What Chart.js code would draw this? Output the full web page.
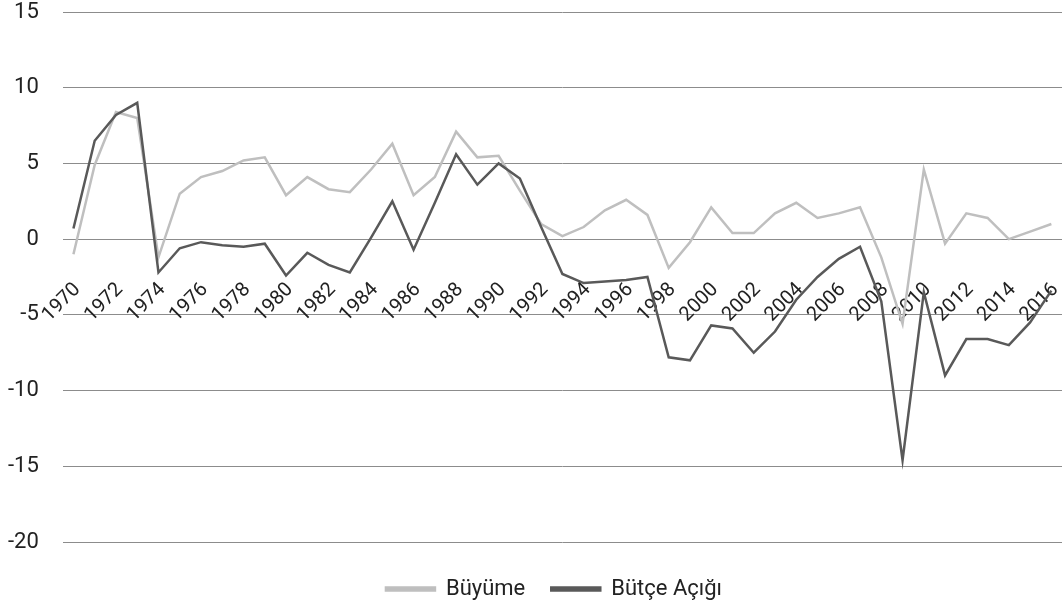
<!DOCTYPE html>
<html>
<head>
<meta charset="utf-8">
<script src="https://cdn.jsdelivr.net/npm/chart.js@4.4.0/dist/chart.umd.min.js"></script>
<style>
  html, body { margin: 0; padding: 0; background: #fff; }
  #wrap { width: 1062px; height: 606px; }
</style>
</head>
<body>
<div id="wrap"><canvas id="chart"></canvas></div>
<script>
var years = ['1970','1971','1972','1973','1974','1975','1976','1977','1978','1979',
  '1980','1981','1982','1983','1984','1985','1986','1987','1988','1989',
  '1990','1991','1992','1993','1994','1995','1996','1997','1998','1999',
  '2000','2001','2002','2003','2004','2005','2006','2007','2008','2009',
  '2010','2011','2012','2013','2014','2015','2016'];

var buyume = [-1.0, 4.9, 8.4, 8.0, -1.2, 3.0, 4.1, 4.5, 5.2, 5.4,
  2.9, 4.1, 3.3, 3.1, 4.6, 6.3, 2.9, 4.1, 7.1, 5.4,
  5.5, 3.2, 1.0, 0.2, 0.8, 1.9, 2.6, 1.6, -1.9, -0.2,
  2.1, 0.4, 0.4, 1.7, 2.4, 1.4, 1.7, 2.1, -1.2, -5.6,
  4.6, -0.3, 1.7, 1.4, 0.0, 0.5, 1.0];

var butceAcigi = [0.7, 6.5, 8.2, 9.0, -2.2, -0.6, -0.2, -0.4, -0.5, -0.3,
  -2.4, -0.9, -1.7, -2.2, 0.1, 2.5, -0.7, 2.4, 5.6, 3.6,
  5.0, 4.0, 0.8, -2.3, -2.9, -2.8, -2.7, -2.5, -7.8, -8.0,
  -5.7, -5.9, -7.5, -6.1, -4.0, -2.5, -1.3, -0.5, -4.1, -14.6,
  -3.5, -9.0, -6.6, -6.6, -7.0, -5.5, -3.4];

var yTicks = [-20, -15, -10, -5, 0, 5, 10, 15];

var fontFamily = 'Roboto, sans-serif';

// move the legend row down and right, where it sits in the original
var legendShift = {
  id: 'legendShift',
  afterLayout: function(chart) {
    chart.legend.top += 10;
    chart.legend.bottom += 10;
    chart.legend.left += 31;
    chart.legend.right += 31;
  }
};

document.addEventListener("DOMContentLoaded", function() {
  var ctx = document.getElementById("chart").getContext('2d');
  new Chart(ctx, {
    type: 'line',
    data: {
      labels: years,
      datasets: [{
        label: 'Büyüme',
        data: buyume,
        borderColor: '#bfbfbf',
        backgroundColor: '#bfbfbf',
        borderWidth: 2.5,
        pointRadius: 0,
        tension: 0,
        order: 1
      }, {
        label: 'Bütçe Açığı',
        data: butceAcigi,
        borderColor: '#595959',
        backgroundColor: '#595959',
        borderWidth: 2.5,
        pointRadius: 0,
        tension: 0,
        order: 0
      }]
    },
    plugins: [legendShift],
    options: {
      responsive: true,
      maintainAspectRatio: false,
      animation: false,
      layout: { padding: { left: -16, right: 0, top: 12, bottom: 6 } },
      plugins: {
        tooltip: { enabled: false },
        legend: {
          position: 'bottom',
          labels: {
            boxWidth: 49,
            boxHeight: 3,
            padding: 26,
            color: '#222',
            font: { family: fontFamily, size: 22 },
            sort: function(a, b) { return a.datasetIndex - b.datasetIndex; }
          }
        }
      },
      scales: {
        x: {
          position: { y: 0 },
          offset: true,
          grid: { display: false, drawTicks: false },
          border: { display: false },
          afterFit: function(scale) {
            scale.paddingLeft = 0;
            scale.paddingRight = 0;
            scale.height = 0;
          },
          ticks: {
            autoSkip: false,
            minRotation: 45,
            maxRotation: 45,
            padding: 39,
            labelOffset: 4,
            color: '#222',
            font: { family: fontFamily, size: 20 },
            callback: function(value, index) {
              return index % 2 === 0 ? years[index] : '';
            }
          }
        },
        y: {
          min: -20,
          max: 15,
          afterBuildTicks: function(scale) {
            scale.ticks = yTicks.map(function(v) { return { value: v }; });
          },
          afterFit: function(scale) {
            scale.paddingTop = 0;
            scale.paddingBottom = 0;
          },
          grid: { color: '#8c8c8c', lineWidth: 1, drawTicks: false },
          border: { display: false },
          ticks: {
            padding: 24,
            color: '#222',
            font: { family: fontFamily, size: 22 }
          }
        }
      }
    }
  });
});
</script>
</body>
</html>
